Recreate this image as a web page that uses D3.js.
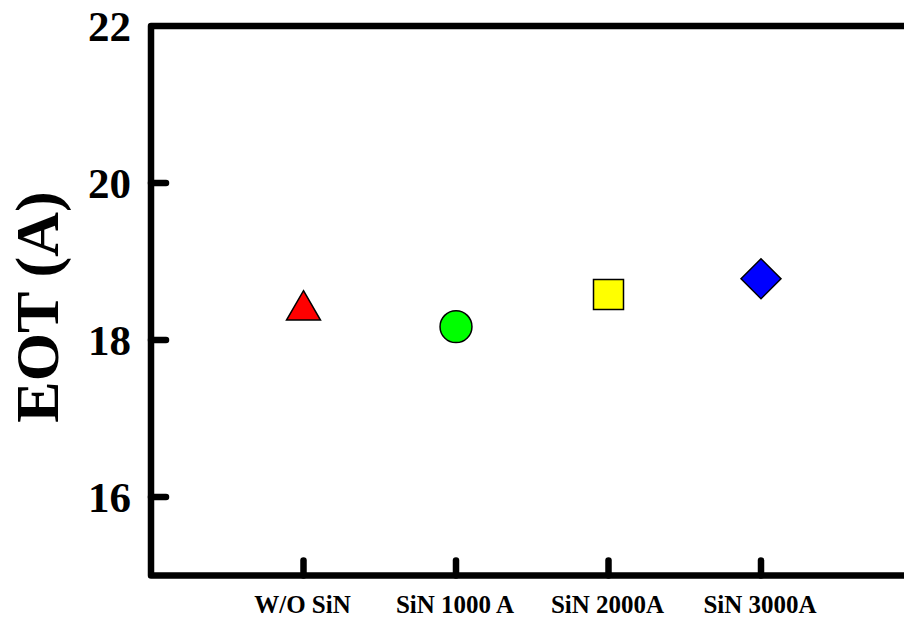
<!DOCTYPE html>
<html>
<head>
<meta charset="utf-8">
<script src="https://cdn.jsdelivr.net/npm/d3@7"></script>
<style>
  html, body { margin: 0; padding: 0; background: #fff; }
  svg { display: block; }
  text { font-family: "Liberation Serif", "Times New Roman", serif; font-weight: bold; fill: #000; }
</style>
</head>
<body>
<svg id="chart" width="904" height="622"></svg>
<script>
// Data
const categories = ["W/O SiN", "SiN 1000 A", "SiN 2000A", "SiN 3000A"];
const eotValues = [18.43, 18.17, 18.58, 18.78];
const markerShapes = ["triangle", "circle", "square", "diamond"];
const markerColors = ["#ff0000", "#00ff00", "#ffff00", "#0000ff"];
const yTicks = [16, 18, 20, 22];
const yLabel = "EOT (A)";

const svg = d3.select("#chart");
const plotLeft = 151, plotTop = 26, plotBottom = 575.5, spacing = 152.5;

const x = d3.scaleLinear().domain([0, 5]).range([plotLeft, plotLeft + 5 * spacing]);
const y = d3.scaleLinear().domain([15, 22]).range([plotBottom, plotTop]);

// Frame: top line extends past the right edge
svg.append("path")
  .attr("d", `M${x(5)},${y(22)} L${plotLeft},${y(22)} L${plotLeft},${y(15)} L${x(5)},${y(15)}`)
  .attr("fill", "none").attr("stroke", "#000").attr("stroke-width", 6.5)
  .attr("stroke-linejoin", "round").attr("stroke-linecap", "round");

// Y ticks (inward)
svg.selectAll(".ytick").data(yTicks.filter(d => d < 22)).join("line")
  .attr("x1", plotLeft).attr("x2", plotLeft + 15)
  .attr("y1", d => y(d)).attr("y2", d => y(d))
  .attr("stroke", "#000").attr("stroke-width", 6.5).attr("stroke-linecap", "round");

svg.selectAll(".ylab").data(yTicks).join("text")
  .attr("x", 131).attr("y", d => y(d))
  .attr("dy", "0.34em")
  .attr("text-anchor", "end")
  .attr("font-size", 43)
  .text(d => d);

// X ticks (inward, upward)
svg.selectAll(".xtick").data(categories).join("line")
  .attr("x1", (d, i) => x(i + 1)).attr("x2", (d, i) => x(i + 1))
  .attr("y1", plotBottom).attr("y2", plotBottom - 15)
  .attr("stroke", "#000").attr("stroke-width", 6.5).attr("stroke-linecap", "round");

svg.selectAll(".xlab").data(categories).join("text")
  .attr("x", (d, i) => x(i + 1) - 1).attr("y", 612.5)
  .attr("text-anchor", "middle")
  .attr("font-size", 25)
  .text(d => d);

// Y axis title
svg.append("text")
  .attr("transform", `translate(58,${(192 + 422) / 2}) rotate(-90)`)
  .attr("text-anchor", "middle")
  .attr("font-size", 62)
  .text(yLabel);

// Markers
const symMap = {
  triangle: d3.symbolTriangle,
  circle: d3.symbolCircle,
  square: d3.symbolSquare,
  diamond: d3.symbolSquare
};
const sizes = { triangle: 500, circle: 800, square: 900, diamond: 800 };

svg.selectAll(".pt").data(eotValues).join("path")
  .attr("d", (d, i) => d3.symbol().type(symMap[markerShapes[i]]).size(sizes[markerShapes[i]])())
  .attr("transform", (d, i) => {
    const s = markerShapes[i];
    let cx = x(i + 1), cy = y(d);
    if (s === "triangle") cy += 4;
    return `translate(${cx},${cy})` + (s === "diamond" ? " rotate(45)" : "");
  })
  .attr("fill", (d, i) => markerColors[i])
  .attr("stroke", "#000").attr("stroke-width", 1.5);
</script>
</body>
</html>
